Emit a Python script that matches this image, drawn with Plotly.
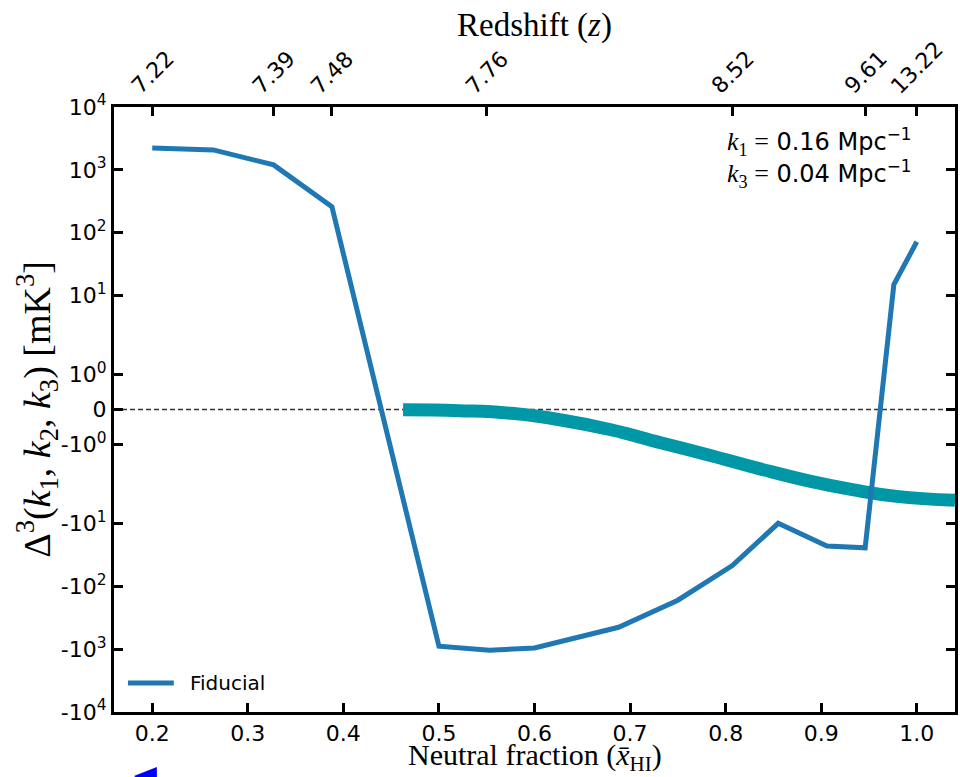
import numpy as np
import plotly.graph_objects as go

# ---------------- data ----------------
xhi_fid = [0.200, 0.264, 0.327, 0.388, 0.500, 0.553, 0.600, 0.688, 0.750, 0.807, 0.855, 0.906, 0.946, 0.976, 1.000]
bisp_fid = [2230, 2080, 1200, 260, -900, -1040, -960, -450, -167, -47, -10, -23, -24.5, 15, 72]

xhi_teal = [0.4625, 0.521, 0.576, 0.628, 0.680, 0.732, 0.784, 0.836, 0.889, 0.934, 0.979, 1.040]
val_teal = [-0.009, -0.035, -0.11, -0.30, -0.58, -0.95, -1.38, -2.04, -2.94, -3.77, -4.55, -5.11]

x_tick_vals = [0.2, 0.3, 0.4, 0.5, 0.6, 0.7, 0.8, 0.9, 1.0]
x_tick_text = ["0.2", "0.3", "0.4", "0.5", "0.6", "0.7", "0.8", "0.9", "1.0"]

z_tick_xhi = [0.200, 0.327, 0.388, 0.550, 0.807, 0.946, 1.000]
z_tick_text = ["7.22", "7.39", "7.48", "7.76", "8.52", "9.61", "13.22"]

y_tick_vals = [1e4, 1e3, 1e2, 1e1, 1, 0, -1, -1e1, -1e2, -1e3, -1e4]
y_tick_text = ["10<sup>4</sup>", "10<sup>3</sup>", "10<sup>2</sup>", "10<sup>1</sup>", "10<sup>0</sup>", "0",
               "-10<sup>0</sup>", "-10<sup>1</sup>", "-10<sup>2</sup>", "-10<sup>3</sup>", "-10<sup>4</sup>"]

legend_label = "Fiducial"


# symmetric-log style transform used for the y axis
def symlog(v):
    a = 35 / 63.0
    b = 79 / 63.0
    v = np.asarray(v, dtype=float)
    m = np.abs(v)
    s = np.sign(v)
    lm = np.log10(np.maximum(m, 1e-12))
    return np.where(m <= 1, v * a, np.where(m <= 10, s * (a + b * lm), s * (a + b + lm - 1)))


W, H = 960, 777
L, R, T, B = 114, 2, 107, 65
pw, ph = W - L - R, H - T - B
X0, X1 = 0.16, 1.04


def px(x):
    return (x - L) / pw


def py(y):
    return (H - B - y) / ph


SANS = "DejaVu Sans"
SERIF = "Liberation Serif"
BLUE = "#1f77b4"

fig = go.Figure()

fig.add_trace(go.Scatter(
    x=xhi_teal, y=symlog(val_teal), mode="lines",
    line=dict(color="#0098a6", width=13, shape="spline", smoothing=1.3),
    showlegend=False, hoverinfo="skip"))

fig.add_trace(go.Scatter(
    x=xhi_fid, y=symlog(bisp_fid), mode="lines", name=legend_label,
    line=dict(color=BLUE, width=5), showlegend=False))

# helper trace for the redshift axis
fig.add_trace(go.Scatter(
    x=z_tick_xhi, y=[0] * len(z_tick_xhi), xaxis="x2", mode="markers",
    marker=dict(opacity=0), showlegend=False, hoverinfo="skip"))

ymax = float(symlog(1e4))

axis_common = dict(showline=True, linewidth=3, linecolor="black", ticks="inside",
                   ticklen=9, tickwidth=2.5, tickcolor="black", showgrid=False,
                   zeroline=False, tickfont=dict(family=SANS, size=22, color="black"))

annotations = [
    dict(xref="paper", yref="paper", x=0.5, y=py(25), xanchor="center", yanchor="middle",
         text="Redshift (<i>z</i>)", showarrow=False,
         font=dict(family=SERIF, size=33, color="black")),
    dict(xref="paper", yref="paper", x=0.5, y=py(757), xanchor="center", yanchor="middle",
         text="Neutral fraction (<i>x̄</i><sub>HI</sub>)", showarrow=False,
         font=dict(family=SERIF, size=30, color="black")),
    dict(xref="paper", yref="paper", x=px(36), y=0.5, xanchor="center", yanchor="middle",
         text="Δ<sup>3</sup>(<i>k</i><sub>1</sub>, <i>k</i><sub>2</sub>, <i>k</i><sub>3</sub>) [mK<sup>3</sup>]",
         textangle=-90, showarrow=False,
         font=dict(family=SERIF, size=38, color="black")),
    dict(xref="paper", yref="paper", x=px(727), y=py(142), xanchor="left", yanchor="middle",
         text='<span style="font-family:Liberation Serif;font-size:26px"><i>k</i><sub>1</sub> =</span> 0.16 Mpc<sup>−1</sup>',
         showarrow=False, font=dict(family=SANS, size=24, color="black")),
    dict(xref="paper", yref="paper", x=px(727), y=py(174), xanchor="left", yanchor="middle",
         text='<span style="font-family:Liberation Serif;font-size:26px"><i>k</i><sub>3</sub> =</span> 0.04 Mpc<sup>−1</sup>',
         showarrow=False, font=dict(family=SANS, size=24, color="black")),
    dict(xref="paper", yref="paper", x=px(188), y=py(683), xanchor="left", yanchor="middle",
         text=legend_label, showarrow=False, font=dict(family=SANS, size=20, color="black")),
]

# rotated redshift tick labels on the top axis
for xv, lab in zip(z_tick_xhi, z_tick_text):
    annotations.append(dict(xref="x2", yref="paper", x=xv, y=py(101), xanchor="center", yanchor="bottom",
                            text=lab, textangle=-45, showarrow=False,
                            font=dict(family=SANS, size=22, color="black")))

fig.update_layout(
    width=W, height=H,
    margin=dict(l=L, r=R, t=T, b=B, pad=0),
    paper_bgcolor="white", plot_bgcolor="white",
    xaxis=dict(range=[X0, X1], tickmode="array", tickvals=x_tick_vals, ticktext=x_tick_text,
               mirror=True, **axis_common),
    xaxis2=dict(range=[X0, X1], overlaying="x", side="top", anchor="y", tickmode="array",
                tickvals=z_tick_xhi, showticklabels=False,
                **{**axis_common, "showline": False}),
    yaxis=dict(range=[-ymax, ymax], tickmode="array", tickvals=list(symlog(y_tick_vals)),
               ticktext=y_tick_text, mirror="ticks", **axis_common),
    showlegend=False,
    shapes=[
        dict(type="line", xref="paper", yref="y", x0=0, x1=1, y0=0, y1=0,
             line=dict(color="#333333", width=1.3, dash="5px,3px"), layer="below"),
        # legend key line
        dict(type="line", xref="paper", yref="paper", x0=px(128), x1=px(174), y0=py(683), y1=py(683),
             line=dict(color=BLUE, width=5)),
        dict(type="path", xref="paper", yref="paper",
             path=f"M {px(134)},{py(776)} L {px(157)},{py(767)} L {px(157)},{py(790)} Z",
             fillcolor="#0000ff", line=dict(width=0)),
    ],
    annotations=annotations,
)

fig.write_html("out.html")
